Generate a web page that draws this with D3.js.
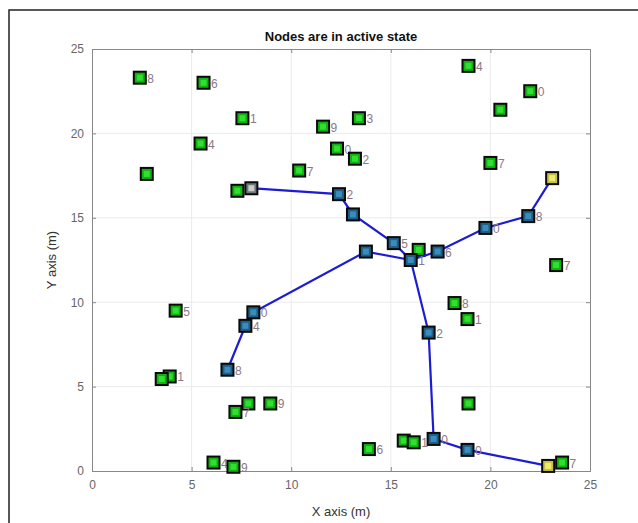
<!DOCTYPE html>
<html>
<head>
<meta charset="utf-8">
<script src="https://cdn.jsdelivr.net/npm/d3@7"></script>
<style>
  body { margin: 0; background: #fff; }
  svg { display: block; font-family: "Liberation Sans", Arial, sans-serif; }
</style>
</head>
<body>
<svg id="chart" width="638" height="523"></svg>
<script>
// node positions (m), labels and kind: n = idle, r = on route, h = cluster head, s = source
const nodeX = [2.4, 5.6, 7.55, 5.45, 2.75, 7.3, 8.0, 10.4, 11.6, 12.3, 13.2, 13.4, 12.4, 13.1, 15.15, 16.4, 17.35, 16.0, 13.75, 19.75, 21.9, 23.1, 18.9, 22.0, 20.5, 20.0, 23.3, 18.2, 18.85, 16.9, 18.9, 17.15, 15.65, 16.15, 13.9, 18.85, 22.9, 23.6, 8.1, 7.7, 6.8, 4.2, 3.9, 3.5, 7.85, 7.2, 8.95, 6.1, 7.1];
const nodeY = [23.3, 23.0, 20.9, 19.4, 17.6, 16.6, 16.75, 17.8, 20.4, 19.1, 18.5, 20.9, 16.4, 15.2, 13.5, 13.1, 13.0, 12.5, 13.0, 14.4, 15.1, 17.35, 24.0, 22.5, 21.4, 18.25, 12.2, 9.95, 9.0, 8.2, 4.0, 1.9, 1.8, 1.7, 1.3, 1.25, 0.3, 0.5, 9.4, 8.6, 6.0, 9.5, 5.6, 5.45, 4.0, 3.5, 4.0, 0.5, 0.25];
const nodeLabel = ['8', '6', '1', '4', '', '', '', '7', '9', '0', '2', '3', '2', '', '5', '', '6', '1', '', '0', '8', '', '4', '0', '', '7', '7', '8', '1', '2', '', '0', '', '1', '6', '0', '', '7', '0', '4', '8', '5', '1', '', '', '7', '9', '4', '9'];
const nodeKind = ['n', 'n', 'n', 'n', 'n', 'n', 's', 'n', 'n', 'n', 'n', 'n', 'r', 'r', 'r', 'n', 'r', 'r', 'r', 'r', 'r', 'h', 'n', 'n', 'n', 'n', 'n', 'n', 'n', 'r', 'n', 'r', 'n', 'n', 'n', 'r', 'h', 'n', 'r', 'r', 'r', 'n', 'n', 'n', 'n', 'n', 'n', 'n', 'n'];

// routes as node index sequences
const routes = [
  [6, 12, 13, 14, 17],
  [17, 16, 19, 20, 21],
  [17, 18, 38, 39, 40],
  [17, 29, 31, 35, 36]
];

const ticks = [0, 5, 10, 15, 20, 25];

const svg = d3.select('#chart');
const W = 638, H = 523;
const plot = { left: 92, right: 590, top: 49, bottom: 471 };

svg.append('rect').attr('width', W).attr('height', H).attr('fill', '#fff');

// figure frame (only top and left edges show)
svg.append('rect')
  .attr('x', 9).attr('y', 10)
  .attr('width', W).attr('height', H)
  .attr('fill', 'none')
  .attr('stroke', '#222')
  .attr('stroke-width', 1.5);

const x = d3.scaleLinear().domain([0, 25]).range([plot.left, plot.right]);
const y = d3.scaleLinear().domain([0, 25]).range([plot.bottom, plot.top]);

// grid
const grid = svg.append('g');
ticks.slice(1, -1).forEach(t => {
  grid.append('line')
    .attr('x1', x(t)).attr('x2', x(t))
    .attr('y1', plot.top).attr('y2', plot.bottom)
    .attr('stroke', '#ebebeb');
  grid.append('line')
    .attr('x1', plot.left).attr('x2', plot.right)
    .attr('y1', y(t)).attr('y2', y(t))
    .attr('stroke', '#ebebeb');
});

// axes
svg.append('g')
  .attr('transform', `translate(0,${plot.bottom})`)
  .call(d3.axisBottom(x).tickValues(ticks).tickSize(-4).tickPadding(9))
  .call(g => g.select('.domain').attr('stroke', '#888'))
  .call(g => g.selectAll('.tick line').attr('stroke', '#888'))
  .selectAll('text')
  .style('font-size', '12px')
  .style('fill', '#666');

svg.append('g')
  .attr('transform', `translate(${plot.left},0)`)
  .call(d3.axisLeft(y).tickValues(ticks).tickSize(-4).tickPadding(8))
  .call(g => g.select('.domain').attr('stroke', '#888'))
  .call(g => g.selectAll('.tick line').attr('stroke', '#888'))
  .selectAll('text')
  .style('font-size', '12px')
  .style('fill', '#666');

svg.append('g')
  .attr('transform', `translate(0,${plot.top})`)
  .call(d3.axisTop(x).tickValues(ticks).tickSize(-4).tickFormat(''))
  .call(g => g.select('.domain').attr('stroke', '#888'))
  .call(g => g.selectAll('.tick line').attr('stroke', '#888'));

svg.append('g')
  .attr('transform', `translate(${plot.right},0)`)
  .call(d3.axisRight(y).tickValues(ticks).tickSize(-4).tickFormat(''))
  .call(g => g.select('.domain').attr('stroke', '#888'))
  .call(g => g.selectAll('.tick line').attr('stroke', '#888'));

// titles
svg.append('text')
  .attr('x', (plot.left + plot.right) / 2)
  .attr('y', 41)
  .attr('text-anchor', 'middle')
  .style('font-size', '13px')
  .style('font-weight', 'bold')
  .style('fill', '#111')
  .text('Nodes are in active state');

svg.append('text')
  .attr('x', (plot.left + plot.right) / 2)
  .attr('y', 516)
  .attr('text-anchor', 'middle')
  .style('font-size', '13px')
  .style('fill', '#333')
  .text('X axis (m)');

svg.append('text')
  .attr('transform', `translate(56,${(plot.top + plot.bottom) / 2}) rotate(-90)`)
  .attr('text-anchor', 'middle')
  .style('font-size', '13px')
  .style('fill', '#333')
  .text('Y axis (m)');

const fills = { n: '#12b012', r: '#1d5f86', h: '#c8c040', s: '#6f7878' };
const inner = { n: '#30e030', r: '#3a8cbc', h: '#ecec70', s: '#c8cccc' };

function drawNode(i) {
  const cx = x(nodeX[i]), cy = y(nodeY[i]);
  const k = nodeKind[i];
  svg.append('rect')
    .attr('x', cx - 6).attr('y', cy - 6)
    .attr('width', 12).attr('height', 12)
    .attr('fill', fills[k])
    .attr('stroke', '#0a0a0a')
    .attr('stroke-width', 2);
  svg.append('rect')
    .attr('x', cx - 3).attr('y', cy - 3)
    .attr('width', 6).attr('height', 6)
    .attr('fill', inner[k]);
  if (nodeLabel[i]) {
    svg.append('text')
      .attr('x', cx + 7.5)
      .attr('y', cy + 5)
      .style('font-size', '12px')
      .style('fill', '#8a7888')
      .text(nodeLabel[i]);
  }
}

// idle nodes under the routes
nodeKind.forEach((k, i) => { if (k === 'n') drawNode(i); });

const line = d3.line().x(i => x(nodeX[i])).y(i => y(nodeY[i]));
routes.forEach(r => {
  svg.append('path')
    .attr('d', line(r))
    .attr('fill', 'none')
    .attr('stroke', '#1c1cd4')
    .attr('stroke-width', 2.2);
});

nodeKind.forEach((k, i) => { if (k !== 'n') drawNode(i); });
</script>
</body>
</html>
